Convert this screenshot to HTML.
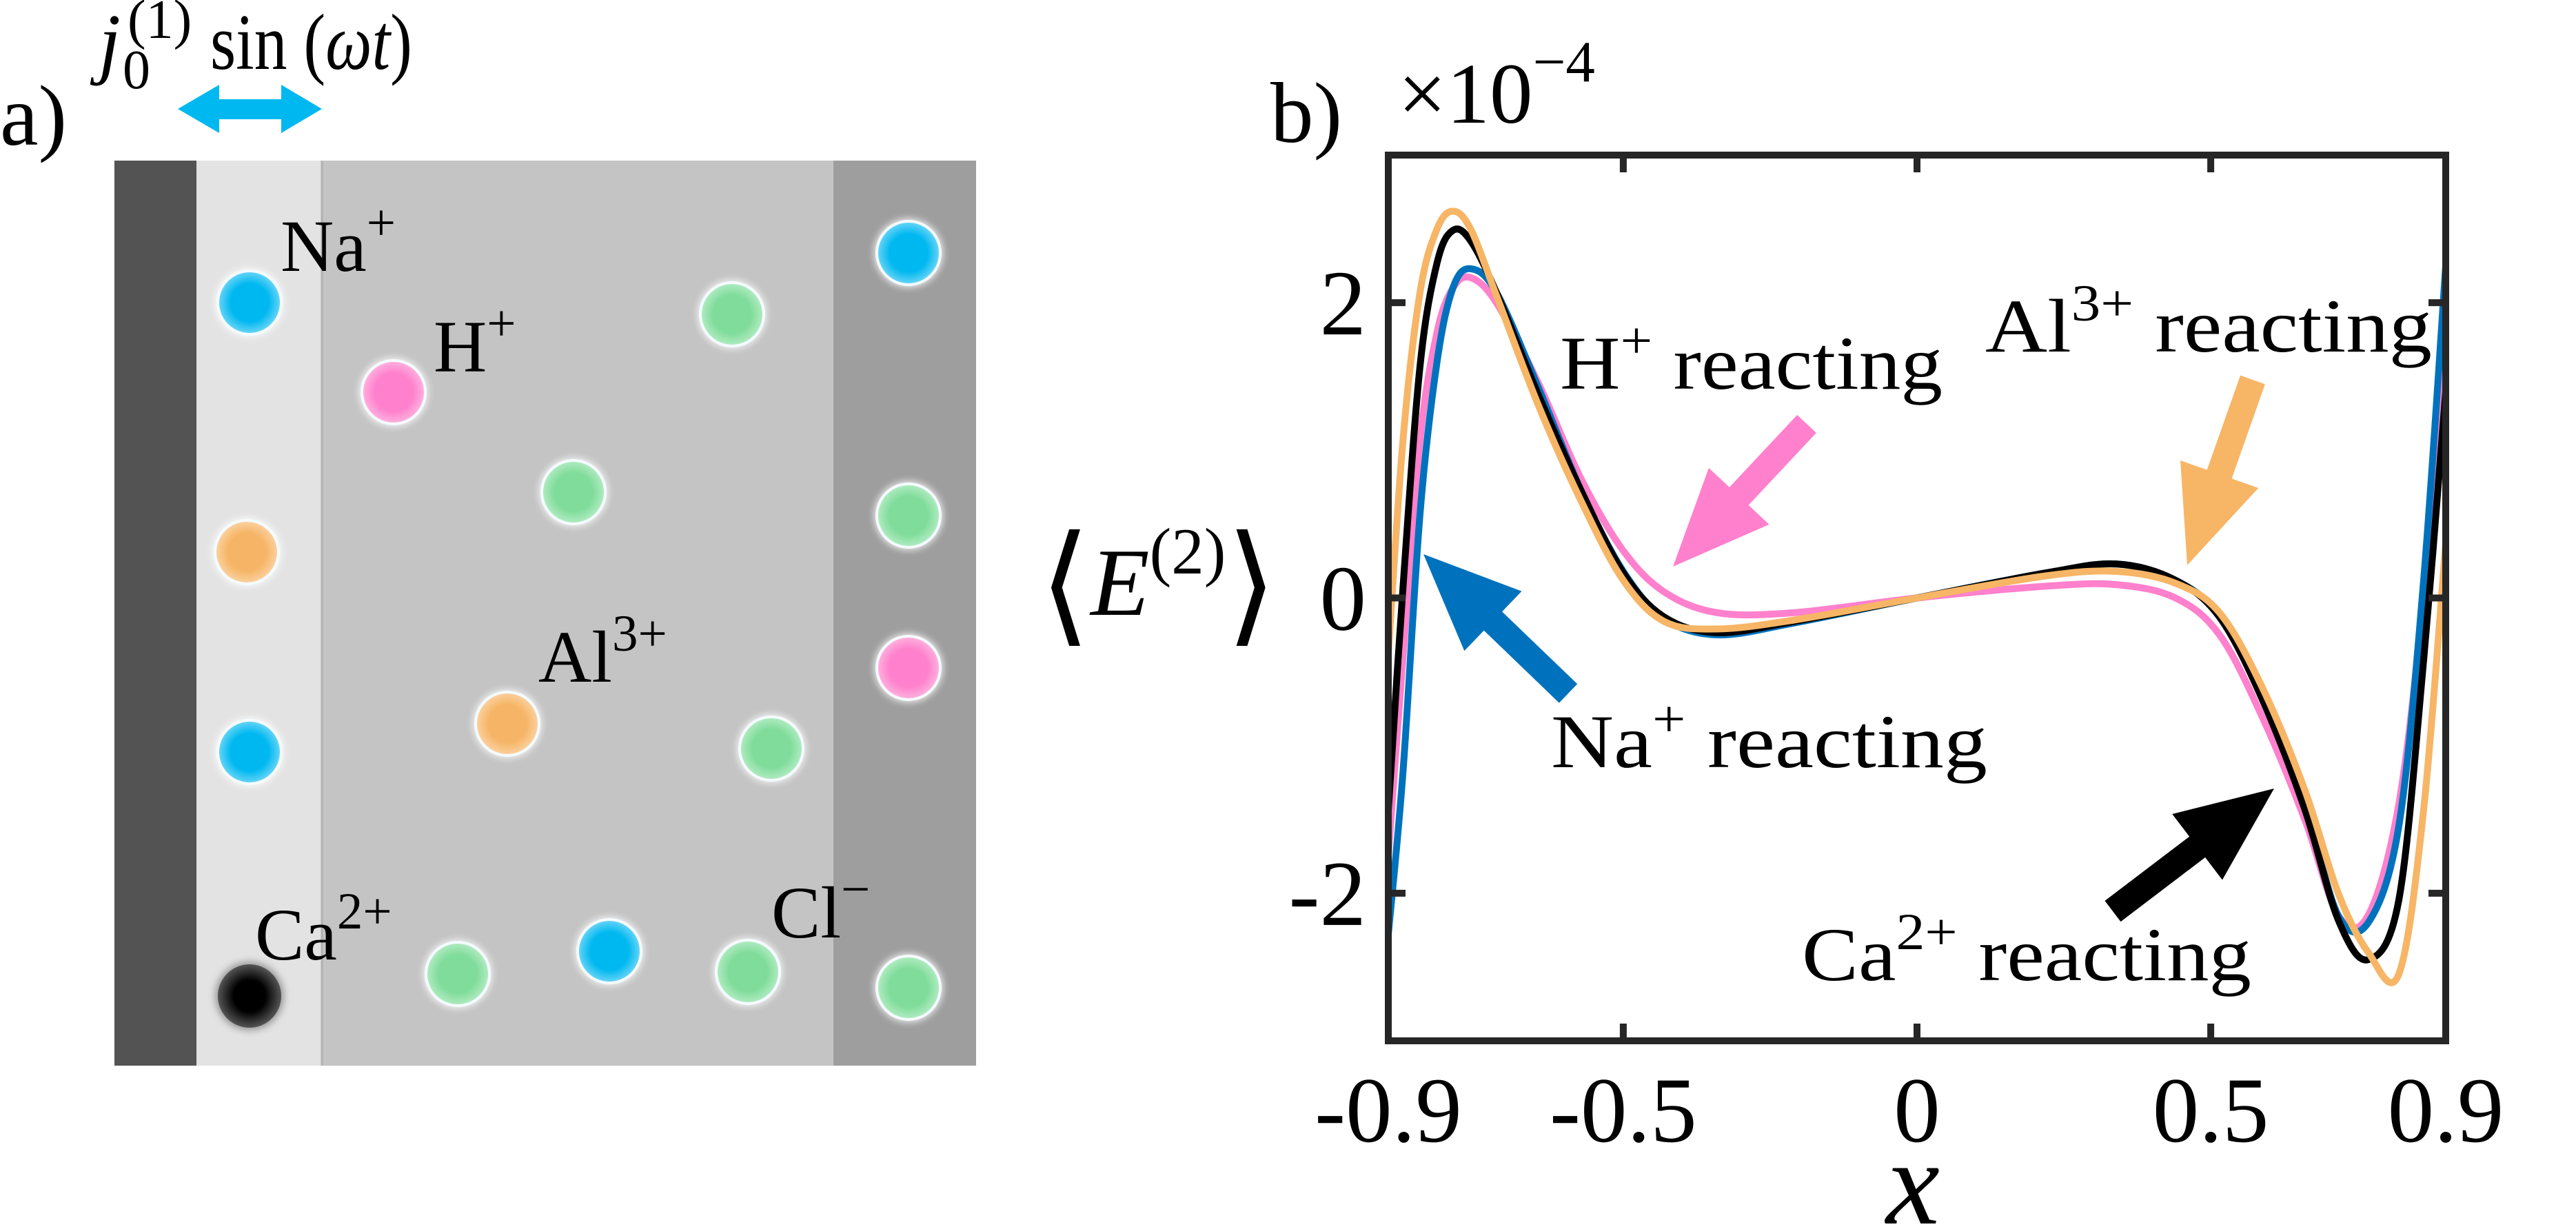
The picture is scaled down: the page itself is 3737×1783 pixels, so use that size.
<!DOCTYPE html>
<html><head><meta charset="utf-8">
<style>
html,body{margin:0;padding:0;background:#fff;}
svg{display:block;}
text{font-family:"Liberation Serif","DejaVu Serif",serif;fill:#000;}
</style></head>
<body>
<svg id="fig" width="3737" height="1783" viewBox="0 0 3737 1783" xmlns="http://www.w3.org/2000/svg">
<defs>
  <filter id="glow" x="-50%" y="-50%" width="200%" height="200%"><feGaussianBlur stdDeviation="5"/></filter>
  <radialGradient id="gBlue"><stop offset="0.6" stop-color="#00b8f0"/><stop offset="1" stop-color="#6fd6f7"/></radialGradient>
  <radialGradient id="gPink"><stop offset="0.6" stop-color="#ff80cc"/><stop offset="1" stop-color="#ffb4e0"/></radialGradient>
  <radialGradient id="gOrange"><stop offset="0.6" stop-color="#f6b566"/><stop offset="1" stop-color="#fbd3a3"/></radialGradient>
  <radialGradient id="gGreen"><stop offset="0.6" stop-color="#7fdc9a"/><stop offset="1" stop-color="#b4ecc4"/></radialGradient>
  <radialGradient id="gBlack"><stop offset="0.5" stop-color="#000"/><stop offset="1" stop-color="#555"/></radialGradient>
</defs>

<g>
  <text x="0" y="210" font-size="125">a)</text>
  <g>
    <text x="143" y="100" font-size="115" font-style="italic">j</text>
    <text x="178" y="128" font-size="80">0</text>
    <text x="185" y="55" font-size="80">(1)</text>
    <text x="305" y="100" font-size="115" textLength="293" lengthAdjust="spacingAndGlyphs">sin (<tspan font-style="italic">ωt</tspan>)</text>
  </g>
  <polygon fill="#00b8f0" points="258,158 318,123 318,144 408,144 408,123 467,158 408,193 408,173 318,173 318,193"/>
  <rect x="166" y="233" width="119" height="1313" fill="#535353"/>
  <rect x="285" y="233" width="182" height="1313" fill="#e3e3e3"/>
  <rect x="467" y="233" width="742" height="1313" fill="#c4c4c4"/>
  <line x1="467" y1="233" x2="467" y2="1546" stroke="#b0b0b0" stroke-width="3"/>
  <rect x="1209" y="233" width="207" height="1313" fill="#9e9e9e"/>
  <g id="ions"></g>
  <text x="407" y="393" font-size="107">Na<tspan font-size="75" dy="-45">+</tspan></text>
  <text x="629" y="539" font-size="107">H<tspan font-size="75" dy="-45">+</tspan></text>
  <text x="781" y="989" font-size="107">Al<tspan font-size="75" dy="-45">3+</tspan></text>
  <text x="370" y="1392" font-size="107">Ca<tspan font-size="75" dy="-45">2+</tspan></text>
  <text x="1119" y="1360" font-size="107">Cl<tspan font-size="75" dy="-45">−</tspan></text>
</g>

<g>
  <text x="1843" y="206" font-size="125">b)</text>
  <text x="2028" y="178" font-size="125">×10<tspan font-size="85" dy="-60">−4</tspan></text>
  <text x="1508" y="892" font-size="140"><tspan font-size="190" dy="20">⟨</tspan><tspan font-style="italic" dy="-20">E</tspan><tspan font-size="95" dy="-60">(2)</tspan><tspan font-size="190" dy="80">⟩</tspan></text>
  <text x="2775" y="1775" font-size="175" font-style="italic" text-anchor="middle">x</text>
  <g id="plot"></g>
  <g id="annots">
    <text x="2263" y="564" font-size="110" textLength="555" lengthAdjust="spacingAndGlyphs">H<tspan font-size="75" dy="-45">+</tspan><tspan dy="45"> reacting</tspan></text>
    <text x="2880" y="510" font-size="110" textLength="648" lengthAdjust="spacingAndGlyphs">Al<tspan font-size="75" dy="-45">3+</tspan><tspan dy="45"> reacting</tspan></text>
    <text x="2250" y="1113" font-size="110" textLength="633" lengthAdjust="spacingAndGlyphs">Na<tspan font-size="75" dy="-45">+</tspan><tspan dy="45"> reacting</tspan></text>
    <text x="2614" y="1422" font-size="110" textLength="652" lengthAdjust="spacingAndGlyphs">Ca<tspan font-size="75" dy="-45">2+</tspan><tspan dy="45"> reacting</tspan></text>
  </g>
</g>
</svg>

<script>
const xGrid = [-0.9,-0.875,-0.846,-0.817,-0.79,-0.76,-0.716,-0.644,-0.571,-0.5,-0.43,-0.34,-0.21,0,0.22,0.34,0.44,0.515,0.587,0.66,0.717,0.768,0.82,0.862,0.9];
const yPink   = [-1.74,-0.4,1.07,1.8,2.1,2.17,2.0,1.45,0.8,0.32,0.04,-0.1,-0.1,0,0.08,0.09,0.0,-0.25,-0.8,-1.5,-2.15,-2.15,-1.4,0.0,1.79];
const yBlue   = [-2.28,-1.18,0.57,1.6,2.1,2.23,2.07,1.42,0.72,0.18,-0.14,-0.25,-0.17,0,0.17,0.23,0.12,-0.12,-0.65,-1.4,-2.15,-2.2,-1.55,0.1,2.25];
const yBlack  = [-1.44,0.07,1.57,2.27,2.49,2.42,2.07,1.37,0.72,0.17,-0.13,-0.235,-0.16,0,0.17,0.23,0.12,-0.13,-0.68,-1.43,-2.18,-2.45,-2.05,-0.44,1.4];
const yOrange = [-0.38,1.07,2.07,2.5,2.62,2.5,2.05,1.3,0.65,0.12,-0.16,-0.21,-0.15,0,0.15,0.18,0.1,-0.1,-0.6,-1.3,-2.0,-2.4,-2.55,-1.45,0.37];
const xTicks = [-0.9,-0.5,0,0.5,0.9];
const xTickLabels = ["-0.9","-0.5","0","0.5","0.9"];
const yTicks = [-2,0,2];
const yTickLabels = ["-2","0","2"];

const NS = "http://www.w3.org/2000/svg";
const X0=2014, X1=3548, Y0=225, Y1=1510;
const xMin=-0.9, xMax=0.9, yMin=-3, yMax=3;
function sx(v){return X0+(v-xMin)/(xMax-xMin)*(X1-X0);}
function sy(v){return Y1-(v-yMin)/(yMax-yMin)*(Y1-Y0);}
function mk(tag, attrs, parent){const e=document.createElementNS(NS,tag);for(const k in attrs)e.setAttribute(k,attrs[k]);parent.appendChild(e);return e;}

const plot=document.getElementById('plot');
const clip=mk('clipPath',{id:'pclip'},plot);
mk('rect',{x:X0,y:Y0,width:X1-X0,height:Y1-Y0},clip);

function smoothPath(xs,ys){
  const p=xs.map((x,i)=>[sx(x),sy(ys[i])]);
  let d='M'+p[0][0]+','+p[0][1];
  for(let i=0;i<p.length-1;i++){
    const a=p[Math.max(0,i-1)],b=p[i],c=p[i+1],e=p[Math.min(p.length-1,i+2)];
    const c1=[b[0]+(c[0]-a[0])/6,b[1]+(c[1]-a[1])/6];
    const c2=[c[0]-(e[0]-b[0])/6,c[1]-(e[1]-b[1])/6];
    d+=' C'+c1[0]+','+c1[1]+' '+c2[0]+','+c2[1]+' '+c[0]+','+c[1];
  }
  return d;
}
const series=[[yPink,'#ff80cc','pink-curve'],[yBlue,'#0072bd','blue-curve'],[yBlack,'#000000','black-curve'],[yOrange,'#f7b566','orange-curve']];
const cg=mk('g',{'clip-path':'url(#pclip)'},plot);
series.forEach(s=>{
  const el=mk('path',{d:smoothPath(xGrid,s[0]),fill:'none',stroke:s[1],'stroke-width':10,'stroke-linejoin':'round'},cg);
  
  
});

const fr=mk('rect',{x:X0,y:Y0,width:X1-X0,height:Y1-Y0,fill:'none',stroke:'#262626','stroke-width':10},plot);


xTicks.forEach((t,i)=>{
  const x=sx(t);
  mk('line',{x1:x,y1:Y1,x2:x,y2:Y1-25,stroke:'#262626','stroke-width':10},plot);
  mk('line',{x1:x,y1:Y0,x2:x,y2:Y0+25,stroke:'#262626','stroke-width':10},plot);
  const tx=mk('text',{x:x,y:1656,'font-size':135,'text-anchor':'middle',fill:'#262626'},plot);
  tx.textContent=xTickLabels[i];
  
  
});
yTicks.forEach((t,i)=>{
  const y=sy(t);
  mk('line',{x1:X0,y1:y,x2:X0+25,y2:y,stroke:'#262626','stroke-width':10},plot);
  mk('line',{x1:X1,y1:y,x2:X1-25,y2:y,stroke:'#262626','stroke-width':10},plot);
  const tx=mk('text',{x:1982,y:y+46,'font-size':135,'text-anchor':'end',fill:'#262626'},plot);
  tx.textContent=yTickLabels[i];
  
  
});

function arrow(tail,tip,color,name){
  const dx=tip[0]-tail[0],dy=tip[1]-tail[1],L=Math.hypot(dx,dy);
  const ux=dx/L,uy=dy/L,nx=-uy,ny=ux;
  const hl=140,hw=60,sw=19;
  const bx=tip[0]-ux*hl,by=tip[1]-uy*hl;
  const pts=[[tail[0]+nx*sw,tail[1]+ny*sw],[bx+nx*sw,by+ny*sw],[bx+nx*hw,by+ny*hw],tip,[bx-nx*hw,by-ny*hw],[bx-nx*sw,by-ny*sw],[tail[0]-nx*sw,tail[1]-ny*sw]];
  const el=mk('polygon',{points:pts.map(p=>p.join(',')).join(' '),fill:color},document.getElementById('annots'));
  
  
}
arrow([2621,615],[2427,822],'#ff80cc','h-arrow');
arrow([3268,551],[3173,820],'#f7b566','al-arrow');
arrow([2275,1006],[2065,804],'#0072bd','na-arrow');
arrow([3065,1322],[3299,1144],'#000000','ca-arrow');

const ions=[[362,439,'gBlue'],[571,569,'gPink'],[1062,456,'gGreen'],[832,714,'gGreen'],[358,801,'gOrange'],[362,1091,'gBlue'],[736,1050,'gOrange'],[1119,1086,'gGreen'],[362,1445,'gBlack'],[664,1413,'gGreen'],[884,1380,'gBlue'],[1085,1410,'gGreen'],[1318,367,'gBlue'],[1318,748,'gGreen'],[1318,969,'gPink'],[1318,1433,'gGreen']];
const ig=document.getElementById('ions');
ions.forEach(c=>{
  const black=c[2]==='gBlack';
  mk('circle',{cx:c[0],cy:c[1],r:50,fill:black?'#888':'#ffffff',opacity:0.8,filter:'url(#glow)'},ig);
  const el=mk('circle',{cx:c[0],cy:c[1],r:46,fill:'url(#'+c[2]+')',stroke:black?'none':'#f4fbff','stroke-width':4},ig);
  
  
});
</script>
</body></html>
